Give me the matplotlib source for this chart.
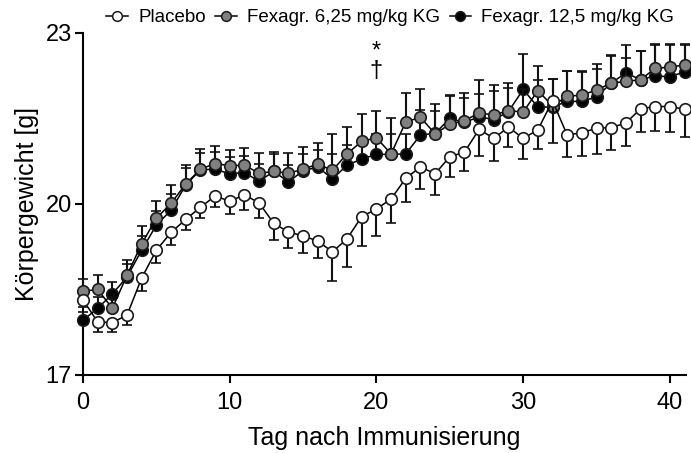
import numpy as np
import matplotlib.pyplot as plt
from matplotlib.lines import Line2D

plt.rcParams['font.family'] = ['Liberation Sans', 'DejaVu Sans']

days = np.arange(0, 42)

placebo = [18.32, 17.93, 17.92, 18.05, 18.70, 19.19, 19.50, 19.73, 19.94, 20.14,
           20.05, 20.16, 20.02, 19.66, 19.51, 19.44, 19.35, 19.16, 19.39, 19.78,
           19.91, 20.09, 20.45, 20.65, 20.53, 20.83, 20.91, 21.31, 21.15, 21.35,
           21.15, 21.30, 21.81, 21.21, 21.25, 21.33, 21.34, 21.42, 21.67, 21.71,
           21.71, 21.66]
placebo_err = [0.12, 0.17, 0.16, 0.17, 0.23, 0.23, 0.22, 0.19, 0.19, 0.20,
               0.23, 0.26, 0.27, 0.30, 0.29, 0.30, 0.30, 0.51, 0.50, 0.51,
               0.48, 0.43, 0.42, 0.38, 0.38, 0.35, 0.34, 0.47, 0.40, 0.35,
               0.36, 0.34, 0.74, 0.39, 0.41, 0.45, 0.40, 0.40, 0.40, 0.43,
               0.44, 0.48]

low_dose = [18.47, 18.50, 18.17, 18.75, 19.30, 19.75, 20.01, 20.35, 20.61, 20.71,
            20.67, 20.68, 20.54, 20.57, 20.54, 20.61, 20.70, 20.59, 20.88, 21.10,
            21.16, 20.88, 21.44, 21.52, 21.23, 21.40, 21.46, 21.60, 21.56, 21.64,
            21.61, 21.99, 21.72, 21.89, 21.91, 22.00, 22.12, 22.15, 22.18, 22.38,
            22.40, 22.44]
low_dose_err = [0.22, 0.25, 0.20, 0.27, 0.32, 0.31, 0.32, 0.33, 0.35, 0.30,
                0.28, 0.30, 0.35, 0.35, 0.35, 0.39, 0.37, 0.64, 0.47, 0.48,
                0.47, 0.63, 0.51, 0.49, 0.53, 0.50, 0.48, 0.57, 0.53, 0.48,
                0.40, 0.43, 0.47, 0.44, 0.41, 0.36, 0.48, 0.41, 0.50, 0.41,
                0.39, 0.35]

high_dose = [17.96, 18.17, 18.42, 18.72, 19.19, 19.63, 19.89, 20.33, 20.60, 20.61,
             20.53, 20.55, 20.40, 20.57, 20.39, 20.58, 20.65, 20.44, 20.68, 20.79,
             20.87, 20.87, 20.88, 21.21, 21.24, 21.50, 21.43, 21.53, 21.48, 21.62,
             22.01, 21.70, 21.70, 21.80, 21.80, 21.88, 22.12, 22.30, 22.18, 22.25,
             22.23, 22.32]
high_dose_err = [0.15, 0.20, 0.22, 0.22, 0.25, 0.25, 0.28, 0.30, 0.30, 0.30,
                 0.30, 0.30, 0.30, 0.30, 0.29, 0.30, 0.30, 0.44, 0.35, 0.35,
                 0.35, 0.35, 0.34, 0.44, 0.40, 0.41, 0.43, 0.40, 0.50, 0.41,
                 0.62, 0.48, 0.50, 0.54, 0.53, 0.57, 0.50, 0.49, 0.50, 0.56,
                 0.57, 0.48]

labels = ['Placebo', 'Fexagr. 6,25 mg/kg KG', 'Fexagr. 12,5 mg/kg KG']
sig_day = 20

edge = '#1a1a1a'
msize = 8.3
lwidth = 1.1

fig = plt.figure(figsize=(6.91, 4.53), dpi=100)
ax = fig.add_axes([0.1201, 0.1722, 0.8727, 0.7550])

def plotline(y, err, face, up, z):
    zeros = np.zeros(len(err))
    yerr = [zeros, err] if up else [err, zeros]
    ax.errorbar(days, y, yerr=yerr, fmt='-o', color='black', linewidth=lwidth,
                markersize=msize, markerfacecolor=face, markeredgecolor=edge,
                markeredgewidth=1.2, ecolor='#111111', elinewidth=1.5,
                capsize=3.6, capthick=1.5, zorder=z, clip_on=False)

plotline(high_dose, high_dose_err, 'black', True, 3)
plotline(low_dose, low_dose_err, '#808080', True, 4)
plotline(placebo, placebo_err, 'white', False, 5)

# significance marks at day 20, one text so * and dagger stay stacked
ax.text(sig_day, 22.50, '*\n\u2020', ha='center', va='center', fontsize=17,
        linespacing=0.85)

ax.set_xlim(0, 41.1)
ax.set_ylim(17, 23)
ax.set_xticks([0, 10, 20, 30, 40])
ax.set_yticks([17, 20, 23])
for s in ['top', 'right']:
    ax.spines[s].set_visible(False)
for s in ['left', 'bottom']:
    ax.spines[s].set_linewidth(1.5)
ax.tick_params(axis='both', direction='out', length=6, width=1.5, labelsize=17)
ax.tick_params(axis='x', pad=6)
ax.tick_params(axis='y', pad=2)
ax.set_xlabel('Tag nach Immunisierung', fontsize=18, labelpad=9)
ax.set_ylabel('K\u00f6rpergewicht [g]', fontsize=18, labelpad=5)

handles = [Line2D([], [], color='black', linewidth=lwidth, marker='o', markersize=7,
                  markerfacecolor=f, markeredgecolor=edge, markeredgewidth=1.1)
           for f in ['white', '#808080', 'black']]
fig.legend(handles, labels, loc='center', bbox_to_anchor=(0.565, 0.961), ncol=3,
           frameon=False, fontsize=13.5, handlelength=1.15, handletextpad=0.55,
           columnspacing=0.5, borderpad=0, borderaxespad=0)

fig.savefig('out.png', dpi=100)
